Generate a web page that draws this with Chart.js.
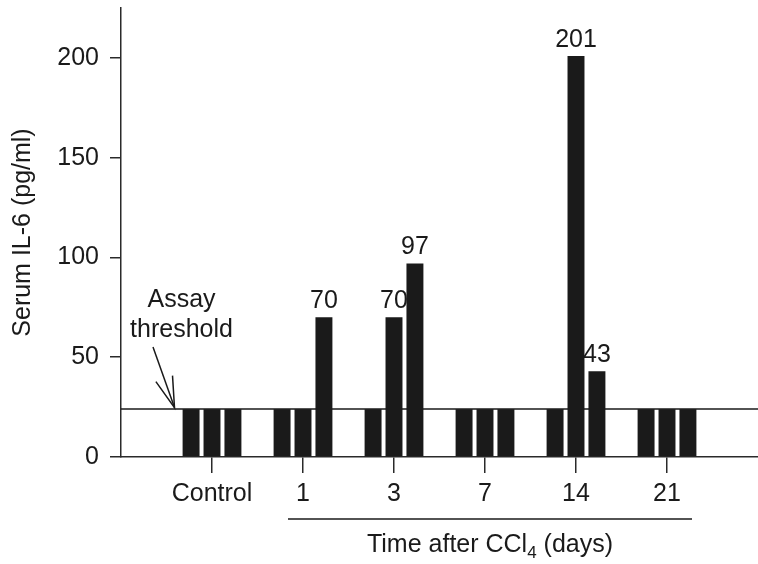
<!DOCTYPE html>
<html><head><meta charset="utf-8">
<script src="https://cdn.jsdelivr.net/npm/chart.js@4.4.0/dist/chart.umd.min.js"></script>
<style>html,body{margin:0;padding:0;background:#fff;}#wrap{width:758px;height:564px;}</style>
</head><body><div id="wrap"><canvas id="c" width="758" height="564"></canvas></div>
<script>
// Categories (empty ends give the extra axis span on both sides)
const categories = ['', 'Control', '1', '3', '7', '14', '21', ''];
// Three animals per time point (values at threshold shown at threshold level)
const animal1 = [null, 24, 24, 24, 24, 24, 24, null];
const animal2 = [null, 24, 24, 70, 24, 201, 24, null];
const animal3 = [null, 24, 70, 97, 24, 43, 24, null];
const yTicks = [0, 50, 100, 150, 200];
const yMax = 225;
const thresholdValue = 24;
const yTitle = 'Serum IL-6 (pg/ml)';
const xTitleParts = ['Time after CCl', '4', ' (days)'];
const thresholdLabel = ['Assay', 'threshold'];

const FONT = "'Liberation Sans', Arial, Helvetica, sans-serif";
const FS = 25;
const INK = '#1a1a1a';
const AXIS = '#2a2a2a';

Chart.defaults.font.family = FONT;
Chart.defaults.font.size = FS;
Chart.defaults.color = INK;

const annot = {
  id: 'annot',
  beforeDatasetsDraw(chart) {
    const {ctx, chartArea, scales: {y}} = chart;
    const ty = y.getPixelForValue(thresholdValue);
    ctx.save();
    ctx.strokeStyle = INK; ctx.lineWidth = 1.5;
    ctx.beginPath(); ctx.moveTo(chartArea.left, ty); ctx.lineTo(chartArea.right, ty); ctx.stroke();
    ctx.restore();
  },
  afterDraw(chart) {
    const {ctx, chartArea, scales: {x, y}} = chart;
    const ty = y.getPixelForValue(thresholdValue);
    ctx.save();
    ctx.fillStyle = INK;
    ctx.font = FS + 'px ' + FONT;
    ctx.textAlign = 'center';
    ctx.textBaseline = 'alphabetic';
    // value labels above bars exceeding the threshold
    chart.data.datasets.forEach((ds, i) => {
      const meta = chart.getDatasetMeta(i);
      ds.data.forEach((v, j) => {
        if (v != null && v > thresholdValue) {
          const el = meta.data[j];
          ctx.fillText(String(v), el.x, el.y - 9);
        }
      });
    });
    // Assay threshold annotation
    const x0 = x.getPixelForValue(0);
    const cx = x0 + 60.5;
    ctx.fillText(thresholdLabel[0], cx, ty - 102);
    ctx.fillText(thresholdLabel[1], cx, ty - 72);
    // arrow
    const tipX = x0 + 53.5, tipY = ty - 1.5;
    const sx = x0 + 32, sy = ty - 62;
    ctx.strokeStyle = INK; ctx.lineWidth = 1.5;
    ctx.beginPath(); ctx.moveTo(sx, sy); ctx.lineTo(tipX, tipY); ctx.stroke();
    const ang = Math.atan2(sy - tipY, sx - tipX);
    const L = 32, h = 16 * Math.PI / 180;
    ctx.beginPath();
    ctx.moveTo(tipX + L * Math.cos(ang - h), tipY + L * Math.sin(ang - h));
    ctx.lineTo(tipX, tipY);
    ctx.lineTo(tipX + L * Math.cos(ang + h), tipY + L * Math.sin(ang + h));
    ctx.stroke();
    // bracket under day labels
    const bl = x.getPixelForValue(2) - 15, br = x.getPixelForValue(6) + 25;
    const by = chartArea.bottom + 62;
    ctx.beginPath(); ctx.moveTo(bl, by); ctx.lineTo(br, by); ctx.stroke();
    // x title with subscript
    const mainFont = FS + 'px ' + FONT, subFont = '17px ' + FONT;
    ctx.font = mainFont; const w1 = ctx.measureText(xTitleParts[0]).width;
    const w3 = ctx.measureText(xTitleParts[2]).width;
    ctx.font = subFont; const w2 = ctx.measureText(xTitleParts[1]).width;
    const total = w1 + w2 + w3;
    let tx = (bl + br) / 2 - total / 2;
    const tb = chartArea.bottom + 95;
    ctx.textAlign = 'left';
    ctx.font = mainFont; ctx.fillText(xTitleParts[0], tx, tb); tx += w1;
    ctx.font = subFont; ctx.fillText(xTitleParts[1], tx, tb + 6); tx += w2;
    ctx.font = mainFont; ctx.fillText(xTitleParts[2], tx, tb);
    ctx.restore();
  }
};

const lastIdx = categories.length - 1;
const barStyle = {backgroundColor: INK, borderWidth: 0, categoryPercentage: 0.69, barPercentage: 0.81};

new Chart(document.getElementById('c'), {
  type: 'bar',
  data: {
    labels: categories,
    datasets: [
      Object.assign({label: 'A', data: animal1}, barStyle),
      Object.assign({label: 'B', data: animal2}, barStyle),
      Object.assign({label: 'C', data: animal3}, barStyle)
    ]
  },
  options: {
    responsive: false,
    devicePixelRatio: 1,
    animation: false,
    layout: {padding: {top: 8, left: 0, right: -3, bottom: 0}},
    plugins: {legend: {display: false}, tooltip: {enabled: false}},
    scales: {
      x: {
        type: 'category',
        offset: false,
        grid: {
          offset: false, drawOnChartArea: false, drawTicks: true, tickLength: 16, lineWidth: 1.5,
          tickColor: (c) => (c.index === 0 || c.index === lastIdx) ? 'rgba(0,0,0,0)' : AXIS
        },
        border: {display: true, color: AXIS, width: 1.5},
        ticks: {autoSkip: false, maxRotation: 0, minRotation: 0, padding: 6, color: INK, font: {size: FS}},
        afterFit: (s) => { s.height = 107; s.paddingLeft = 0; s.paddingRight = 0; }
      },
      y: {
        min: 0, max: yMax,
        grid: {drawOnChartArea: false, drawTicks: true, tickLength: 11, tickColor: AXIS, lineWidth: 1.5},
        border: {display: true, color: AXIS, width: 1.5},
        ticks: {padding: 11, color: INK, font: {size: FS}},
        afterBuildTicks: (s) => { s.ticks = yTicks.map(v => ({value: v})); },
        title: {display: true, text: yTitle, color: INK, font: {size: FS}, padding: {top: 8, bottom: 0}},
        afterFit: (s) => { s.width = 121; s.paddingTop = 0; s.paddingBottom = 0; }
      }
    }
  },
  plugins: [annot]
});
</script></body></html>
